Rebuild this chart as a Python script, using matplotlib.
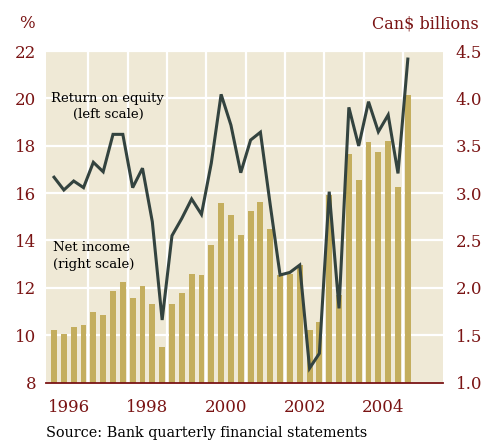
import numpy as np
import matplotlib
matplotlib.use("Agg")
import matplotlib.pyplot as plt

# quarterly data, 1996Q1 - 2005Q1
net_income = [1.55, 1.51, 1.59, 1.61, 1.74, 1.71, 1.97, 2.06,
              1.89, 2.02, 1.83, 1.38, 1.83, 1.95, 2.15, 2.13,
              2.45, 2.89, 2.77, 2.56, 2.81, 2.91, 2.62, 2.14,
              2.15, 2.24, 1.55, 1.64, 2.98, 1.92, 3.41, 3.14,
              3.54, 3.43, 3.55, 3.06, 4.04]
roe = [16.67, 16.13, 16.51, 16.23, 17.30, 16.90, 18.48, 18.48,
       16.23, 17.05, 14.79, 10.64, 14.20, 14.93, 15.75, 15.10,
       17.26, 20.17, 18.87, 16.86, 18.24, 18.57, 15.50, 12.54,
       12.65, 12.96, 8.60, 9.23, 16.06, 11.13, 19.62, 17.99,
       19.86, 18.59, 19.30, 16.83, 21.66]
year_labels = ["1996", "1998", "2000", "2002", "2004"]
left_ticks = [8, 10, 12, 14, 16, 18, 20, 22]
right_ticks = [1.0, 1.5, 2.0, 2.5, 3.0, 3.5, 4.0, 4.5]

x = 1996 + (np.arange(len(net_income)) + 0.5) / 4

red = "#7a1414"
bg = "#efe9d6"
bar_col = "#c4ae5e"
line_col = "#33433f"
plt.rcParams["font.family"] = "DejaVu Serif"

fig = plt.figure(figsize=(4.83, 4.42), dpi=100)
ax = fig.add_axes([0.0952, 0.1346, 0.8220, 0.7500])
ax.set_facecolor(bg)
ax.bar(x, net_income, width=0.15, color=bar_col, zorder=2)
ax.set_ylim(1.0, 4.5)
ax.set_xlim(1995.92, 2006.02)
ax.set_yticks(right_ticks)
ax.set_yticklabels([f"{t:.1f}" for t in right_ticks])
ax.set_xticks([int(y) + 0.5 for y in year_labels])
ax.set_xticklabels(year_labels)
ax.set_xticks(np.arange(1997, 2006), minor=True)
ax.grid(True, axis="y", color="white", lw=1.6)
ax.grid(True, axis="x", which="minor", color="white", lw=1.6)
ax.set_axisbelow(True)
for s in ["top", "left", "right"]:
    ax.spines[s].set_visible(False)
ax.spines["bottom"].set_color(red)
ax.spines["bottom"].set_linewidth(1.3)
ax.spines["bottom"].set_zorder(5)

ax2 = ax.twinx()
ax2.plot(x, roe, color=line_col, lw=2.2, solid_joinstyle="miter")
ax2.set_ylim(8, 22)
ax2.set_yticks(left_ticks)
for s in ax2.spines.values():
    s.set_visible(False)

# swap sides: bars use the right scale, line the left one
ax.yaxis.tick_right()
ax2.yaxis.tick_left()
ax.tick_params(axis="both", which="both", length=0)
ax.tick_params(axis="y", labelsize=12, labelcolor=red, pad=9)
ax.tick_params(axis="x", labelsize=12, labelcolor=red, pad=12)
ax2.tick_params(axis="y", length=0, labelsize=12, labelcolor=red, pad=7)

ax2.text(0.156, 0.832, "Return on equity\n(left scale)", transform=ax2.transAxes,
         ha="center", va="center", fontsize=9.5, linespacing=1.35)
ax2.text(0.018, 0.382, "Net income\n(right scale)", transform=ax2.transAxes,
         ha="left", va="center", fontsize=9.5, linespacing=1.35)

fig.text(27 / 483, 1 - 24 / 442, "%", ha="center", va="center", fontsize=12, color=red)
fig.text(479 / 483, 1 - 24 / 442, "Can$ billions", ha="right", va="center",
         fontsize=11.5, color=red)
fig.text(46 / 483, 1 - 433 / 442, "Source: Bank quarterly financial statements",
         ha="left", va="center", fontsize=10.4)

fig.savefig("out.png", dpi=100)
